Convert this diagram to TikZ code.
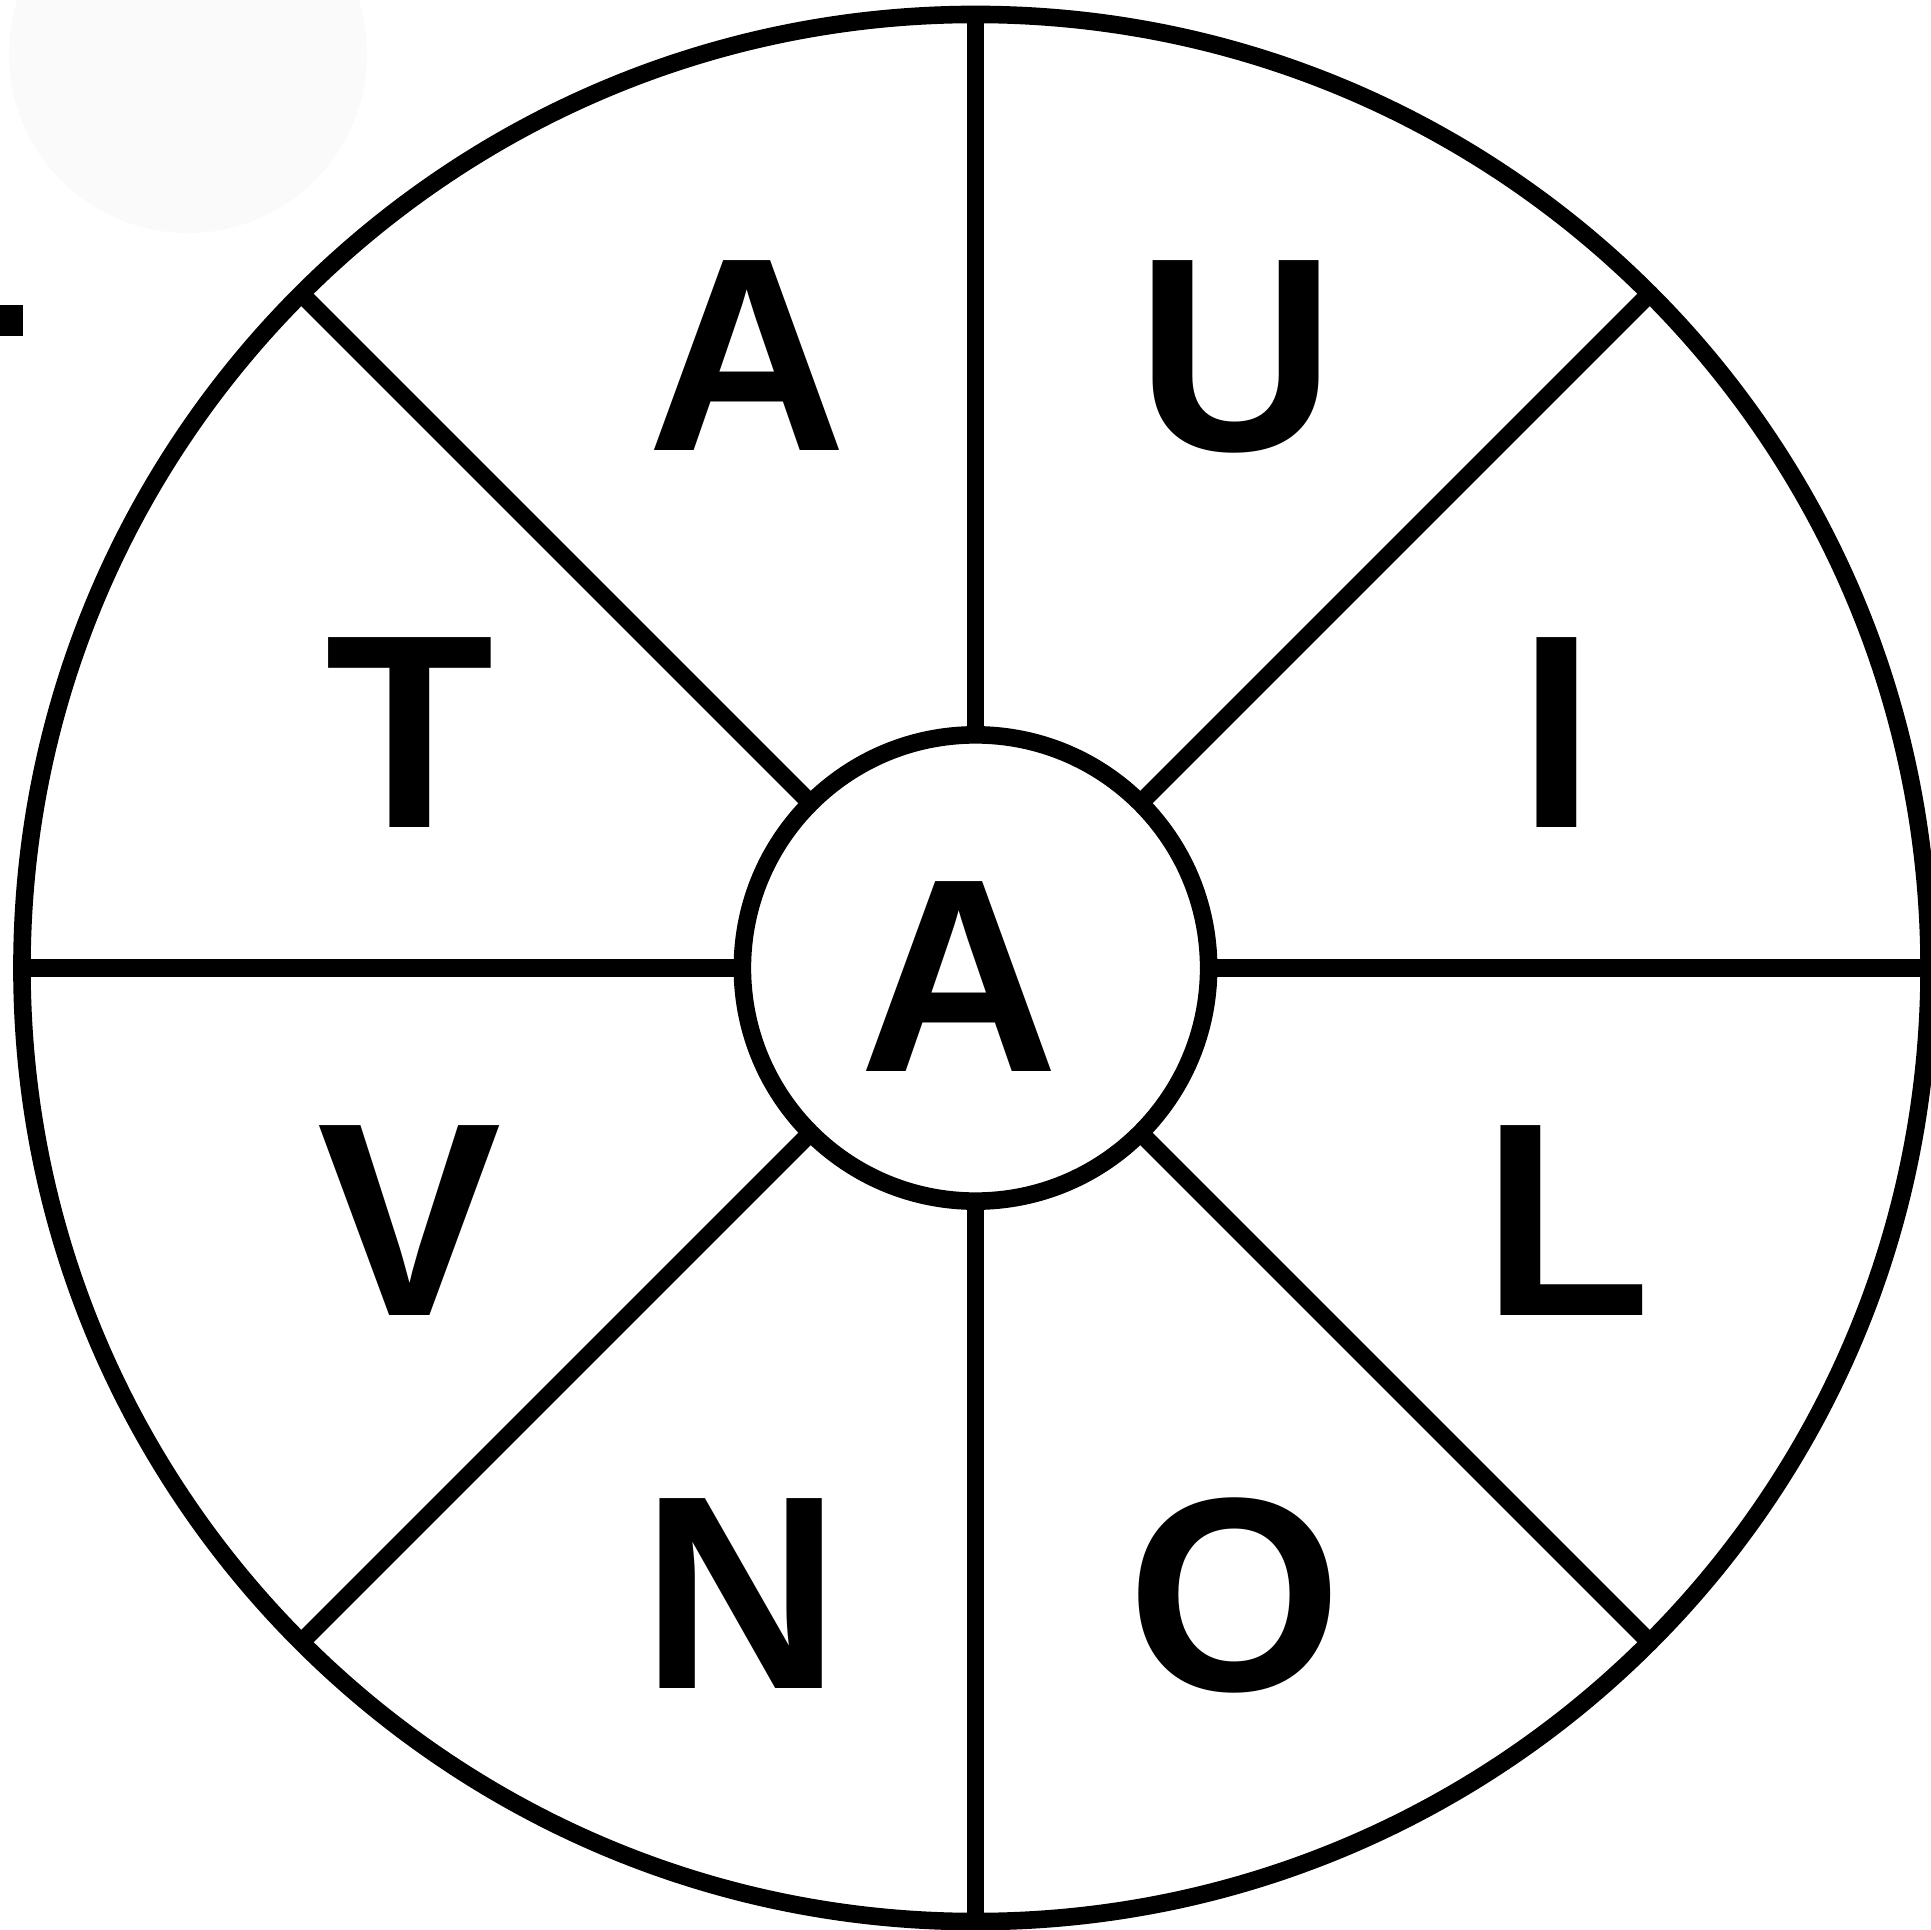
\documentclass[tikz,border=0pt]{standalone}
\usepackage{fontspec}
\setmainfont{Liberation Sans}
\begin{document}
\begin{tikzpicture}[x=0.01cm,y=0.01cm,
  ring/.style={circle,draw=black,line width=5pt,outer sep=0pt,inner sep=0pt},
  spoke/.style={draw=black,line width=5pt},
  letter/.style={inner sep=0pt,outer sep=0pt,anchor=center,font=\bfseries\fontsize{78.5}{84}\selectfont}]
\useasboundingbox (0,0) rectangle (1931,1929);
\fill[black!2] (188,1875) circle[radius=1.79cm];
\fill[black] (0,1593) rectangle (23,1624);
\node[ring,minimum size=19.06cm] (outer) at (975.5,961) {};
\node[ring,minimum size=4.66cm,fill=white] (inner) at (975.5,961) {};
\foreach \a in {0,45,...,315} {
  \draw[spoke] (inner.\a) -- (outer.\a);
}
\node[letter] (la) at (747.5,1573) {A};
\node[letter] (lu) at (1236,1572) {U};
\node[letter] (lt) at (409.5,1196) {T};
\node[letter] (li) at (1557,1196) {I};
\node[letter] (lc) at (959.5,952) {A};
\node[letter] (lv) at (409.5,708) {V};
\node[letter] (ll) at (1567,708) {L};
\node[letter] (ln) at (741,335) {N};
\node[letter] (lo) at (1235,334) {O};
\end{tikzpicture}
\end{document}
